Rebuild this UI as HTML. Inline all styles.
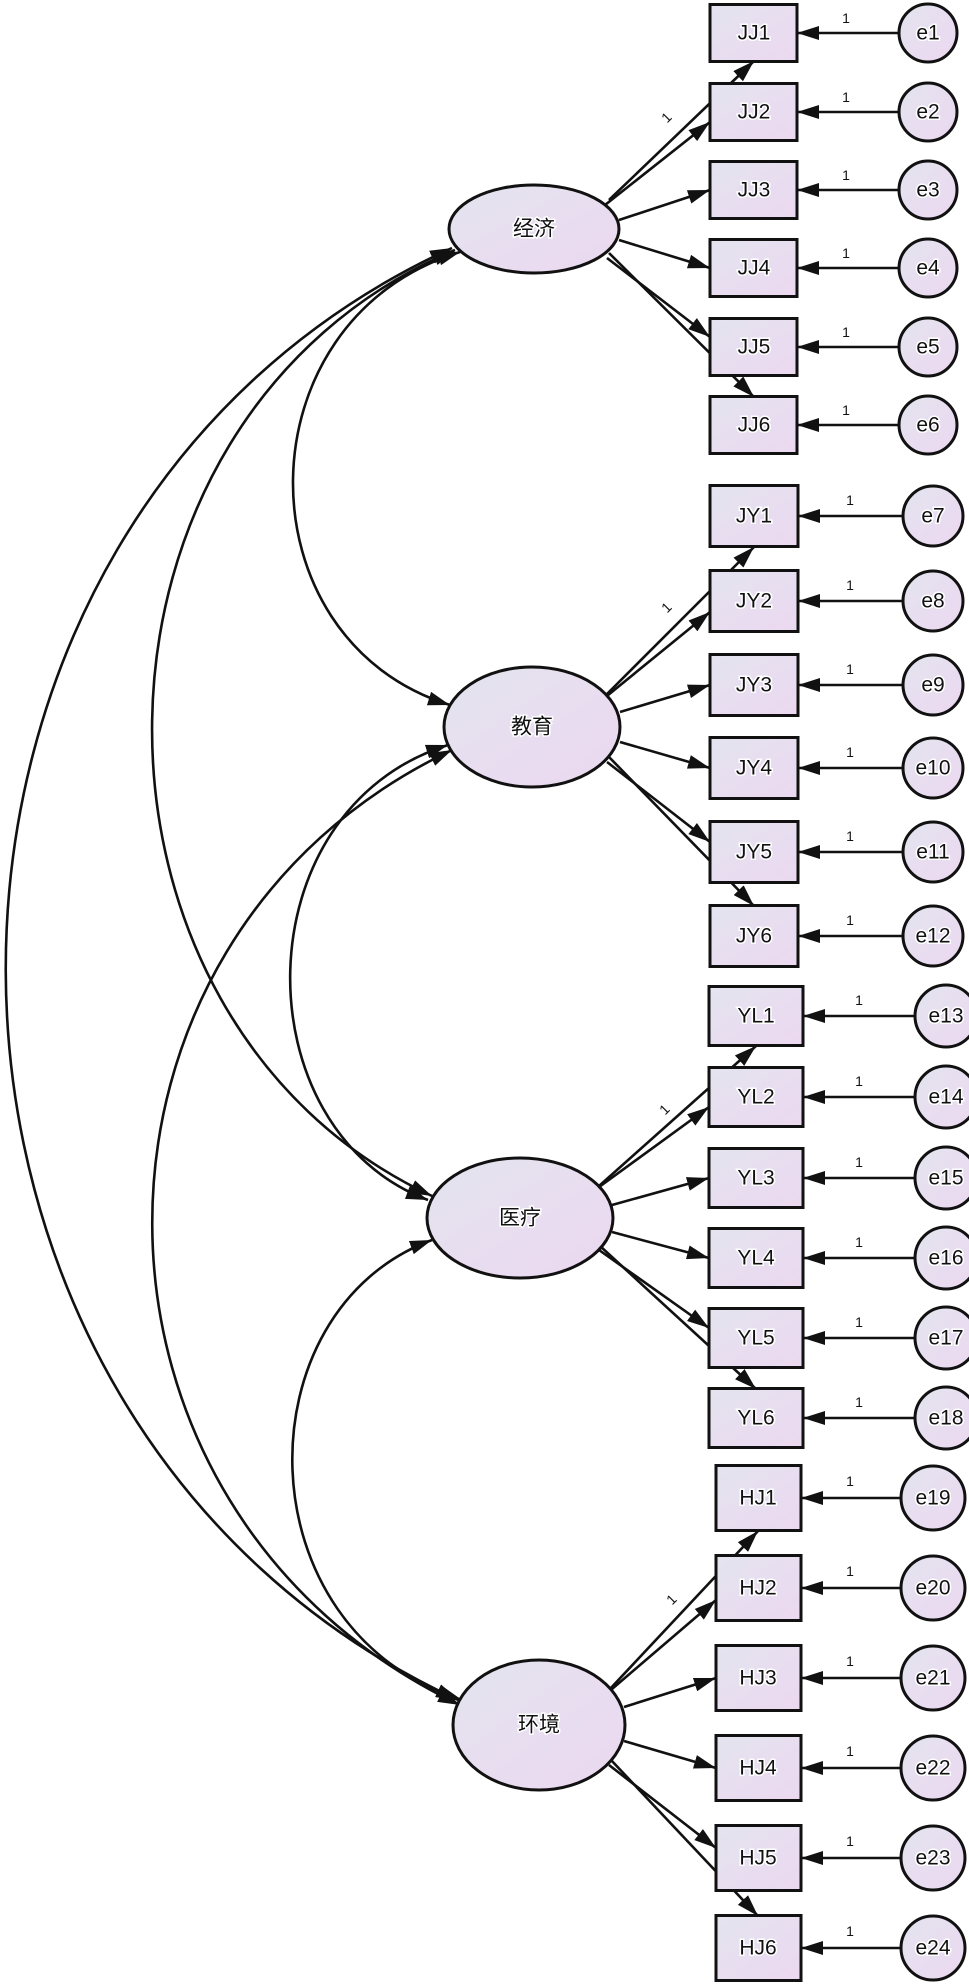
<!DOCTYPE html>
<html><head><meta charset="utf-8"><style>
html,body{margin:0;padding:0;background:#fff}
svg{display:block}
text{font-family:"Liberation Sans","Noto Sans CJK SC",sans-serif;fill:#111}
.t{font-size:21px;text-anchor:middle;dominant-baseline:central;stroke:#fff;stroke-width:3px;paint-order:stroke}
.o{font-size:14px;text-anchor:middle}
.b{fill:url(#gb);stroke:#111;stroke-width:3}
.c{fill:url(#gb);stroke:#111;stroke-width:3}
.l{stroke:#111;stroke-width:2.6;fill:none}
</style></head><body>
<svg width="969" height="1987" viewBox="0 0 969 1987" xmlns="http://www.w3.org/2000/svg">
<defs>
<linearGradient id="gb" x1="0" y1="0" x2="1" y2="1"><stop offset="0" stop-color="#e3e4ef"/><stop offset="1" stop-color="#ecd8f0"/></linearGradient>
<marker id="a" markerUnits="userSpaceOnUse" markerWidth="24" markerHeight="14" refX="22" refY="7" orient="auto-start-reverse"><path d="M0,0 L22,7 L0,14 z" fill="#111"/></marker>
</defs>

<!-- covariance arcs -->
<g class="l" marker-start="url(#a)" marker-end="url(#a)">
<path d="M460,252 C239,320 239,640 450,705"/>
<path d="M455,250 C55,420 55,1020 432,1196"/>
<path d="M452,248 C-144,520 -144,1420 458,1700"/>
<path d="M448,745 C241,810 241,1130 428,1200"/>
<path d="M452,750 C51,940 51,1510 460,1705"/>
<path d="M432,1240 C241,1310 241,1630 462,1700"/>
</g>

<!-- G1 -->
<g class="l" marker-end="url(#a)">
<path d="M609,200 L754,61"/><path d="M605,205 L710,122"/><path d="M619,220 L710,190"/><path d="M619,240 L710,268"/><path d="M607,258 L710,337"/><path d="M609,253 L754,397"/>
<path d="M899,33 L797,33"/><path d="M899,112 L797,112"/><path d="M899,190 L797,190"/><path d="M899,268 L797,268"/><path d="M899,347 L797,347"/><path d="M899,425 L797,425"/>
</g>
<ellipse class="c" cx="534" cy="229" rx="85" ry="44"/>
<text class="t" x="534" y="229">经济</text>
<g>
<rect class="b" x="710" y="4.5" width="87" height="57"/><text class="t" x="754" y="33">JJ1</text>
<rect class="b" x="710" y="83.5" width="87" height="57"/><text class="t" x="754" y="112">JJ2</text>
<rect class="b" x="710" y="161.5" width="87" height="57"/><text class="t" x="754" y="190">JJ3</text>
<rect class="b" x="710" y="239.5" width="87" height="57"/><text class="t" x="754" y="268">JJ4</text>
<rect class="b" x="710" y="318.5" width="87" height="57"/><text class="t" x="754" y="347">JJ5</text>
<rect class="b" x="710" y="396.5" width="87" height="57"/><text class="t" x="754" y="425">JJ6</text>
</g>
<g>
<circle class="c" cx="928" cy="33" r="29"/><text class="t" x="928" y="33">e1</text>
<circle class="c" cx="928" cy="112" r="29"/><text class="t" x="928" y="112">e2</text>
<circle class="c" cx="928" cy="190" r="29"/><text class="t" x="928" y="190">e3</text>
<circle class="c" cx="928" cy="268" r="29"/><text class="t" x="928" y="268">e4</text>
<circle class="c" cx="928" cy="347" r="29"/><text class="t" x="928" y="347">e5</text>
<circle class="c" cx="928" cy="425" r="29"/><text class="t" x="928" y="425">e6</text>
</g>
<text class="o" x="846" y="23">1</text><text class="o" x="846" y="102">1</text><text class="o" x="846" y="180">1</text><text class="o" x="846" y="258">1</text><text class="o" x="846" y="337">1</text><text class="o" x="846" y="415">1</text>
<text class="o" x="667" y="122" transform="rotate(-45 667 118)">1</text>

<!-- G2 -->
<g class="l" marker-end="url(#a)">
<path d="M606,695 L754,547"/><path d="M602,700 L710,612"/><path d="M620,712 L710,685"/><path d="M620,742 L710,768"/><path d="M607,762 L710,842"/><path d="M609,757 L754,906"/>
<path d="M903,516 L798,516"/><path d="M903,601 L798,601"/><path d="M903,685 L798,685"/><path d="M903,768 L798,768"/><path d="M903,852 L798,852"/><path d="M903,936 L798,936"/>
</g>
<ellipse class="c" cx="532" cy="727" rx="88" ry="60"/>
<text class="t" x="532" y="727">教育</text>
<g>
<rect class="b" x="710" y="485.5" width="88" height="61"/><text class="t" x="754" y="516">JY1</text>
<rect class="b" x="710" y="570.5" width="88" height="61"/><text class="t" x="754" y="601">JY2</text>
<rect class="b" x="710" y="654.5" width="88" height="61"/><text class="t" x="754" y="685">JY3</text>
<rect class="b" x="710" y="737.5" width="88" height="61"/><text class="t" x="754" y="768">JY4</text>
<rect class="b" x="710" y="821.5" width="88" height="61"/><text class="t" x="754" y="852">JY5</text>
<rect class="b" x="710" y="905.5" width="88" height="61"/><text class="t" x="754" y="936">JY6</text>
</g>
<g>
<circle class="c" cx="933" cy="516" r="30"/><text class="t" x="933" y="516">e7</text>
<circle class="c" cx="933" cy="601" r="30"/><text class="t" x="933" y="601">e8</text>
<circle class="c" cx="933" cy="685" r="30"/><text class="t" x="933" y="685">e9</text>
<circle class="c" cx="933" cy="768" r="30"/><text class="t" x="933" y="768">e10</text>
<circle class="c" cx="933" cy="852" r="30"/><text class="t" x="933" y="852">e11</text>
<circle class="c" cx="933" cy="936" r="30"/><text class="t" x="933" y="936">e12</text>
</g>
<text class="o" x="850" y="505">1</text><text class="o" x="850" y="590">1</text><text class="o" x="850" y="674">1</text><text class="o" x="850" y="757">1</text><text class="o" x="850" y="841">1</text><text class="o" x="850" y="925">1</text>
<text class="o" x="667" y="612" transform="rotate(-45 667 608)">1</text>

<!-- G3 -->
<g class="l" marker-end="url(#a)">
<path d="M599,1186 L756,1046"/><path d="M595,1190 L709,1107"/><path d="M612,1205 L709,1178"/><path d="M612,1232 L709,1258"/><path d="M599,1250 L709,1328"/><path d="M600,1246 L756,1389"/>
<path d="M915,1016 L803,1016"/><path d="M915,1097 L803,1097"/><path d="M915,1178 L803,1178"/><path d="M915,1258 L803,1258"/><path d="M915,1338 L803,1338"/><path d="M915,1418 L803,1418"/>
</g>
<ellipse class="c" cx="520" cy="1218" rx="93" ry="60"/>
<text class="t" x="520" y="1218">医疗</text>
<g>
<rect class="b" x="709" y="986.5" width="94" height="59"/><text class="t" x="756" y="1016">YL1</text>
<rect class="b" x="709" y="1067.5" width="94" height="59"/><text class="t" x="756" y="1097">YL2</text>
<rect class="b" x="709" y="1148.5" width="94" height="59"/><text class="t" x="756" y="1178">YL3</text>
<rect class="b" x="709" y="1228.5" width="94" height="59"/><text class="t" x="756" y="1258">YL4</text>
<rect class="b" x="709" y="1308.5" width="94" height="59"/><text class="t" x="756" y="1338">YL5</text>
<rect class="b" x="709" y="1388.5" width="94" height="59"/><text class="t" x="756" y="1418">YL6</text>
</g>
<g>
<circle class="c" cx="946" cy="1016" r="31"/><text class="t" x="946" y="1016">e13</text>
<circle class="c" cx="946" cy="1097" r="31"/><text class="t" x="946" y="1097">e14</text>
<circle class="c" cx="946" cy="1178" r="31"/><text class="t" x="946" y="1178">e15</text>
<circle class="c" cx="946" cy="1258" r="31"/><text class="t" x="946" y="1258">e16</text>
<circle class="c" cx="946" cy="1338" r="31"/><text class="t" x="946" y="1338">e17</text>
<circle class="c" cx="946" cy="1418" r="31"/><text class="t" x="946" y="1418">e18</text>
</g>
<text class="o" x="859" y="1005">1</text><text class="o" x="859" y="1086">1</text><text class="o" x="859" y="1167">1</text><text class="o" x="859" y="1247">1</text><text class="o" x="859" y="1327">1</text><text class="o" x="859" y="1407">1</text>
<text class="o" x="665" y="1114" transform="rotate(-45 665 1110)">1</text>

<!-- G4 -->
<g class="l" marker-end="url(#a)">
<path d="M609,1690 L758,1531"/><path d="M605,1695 L716,1600"/><path d="M624,1707 L716,1678"/><path d="M624,1741 L716,1768"/><path d="M609,1765 L716,1848"/><path d="M611,1760 L758,1916"/>
<path d="M901,1498 L801,1498"/><path d="M901,1588 L801,1588"/><path d="M901,1678 L801,1678"/><path d="M901,1768 L801,1768"/><path d="M901,1858 L801,1858"/><path d="M901,1948 L801,1948"/>
</g>
<ellipse class="c" cx="539" cy="1725" rx="86" ry="65"/>
<text class="t" x="539" y="1725">环境</text>
<g>
<rect class="b" x="716" y="1465.5" width="85" height="65"/><text class="t" x="758" y="1498">HJ1</text>
<rect class="b" x="716" y="1555.5" width="85" height="65"/><text class="t" x="758" y="1588">HJ2</text>
<rect class="b" x="716" y="1645.5" width="85" height="65"/><text class="t" x="758" y="1678">HJ3</text>
<rect class="b" x="716" y="1735.5" width="85" height="65"/><text class="t" x="758" y="1768">HJ4</text>
<rect class="b" x="716" y="1825.5" width="85" height="65"/><text class="t" x="758" y="1858">HJ5</text>
<rect class="b" x="716" y="1915.5" width="85" height="65"/><text class="t" x="758" y="1948">HJ6</text>
</g>
<g>
<circle class="c" cx="933" cy="1498" r="32"/><text class="t" x="933" y="1498">e19</text>
<circle class="c" cx="933" cy="1588" r="32"/><text class="t" x="933" y="1588">e20</text>
<circle class="c" cx="933" cy="1678" r="32"/><text class="t" x="933" y="1678">e21</text>
<circle class="c" cx="933" cy="1768" r="32"/><text class="t" x="933" y="1768">e22</text>
<circle class="c" cx="933" cy="1858" r="32"/><text class="t" x="933" y="1858">e23</text>
<circle class="c" cx="933" cy="1948" r="32"/><text class="t" x="933" y="1948">e24</text>
</g>
<text class="o" x="850" y="1486">1</text><text class="o" x="850" y="1576">1</text><text class="o" x="850" y="1666">1</text><text class="o" x="850" y="1756">1</text><text class="o" x="850" y="1846">1</text><text class="o" x="850" y="1936">1</text>
<text class="o" x="672" y="1604" transform="rotate(-45 672 1600)">1</text>
</svg>
</body></html>
